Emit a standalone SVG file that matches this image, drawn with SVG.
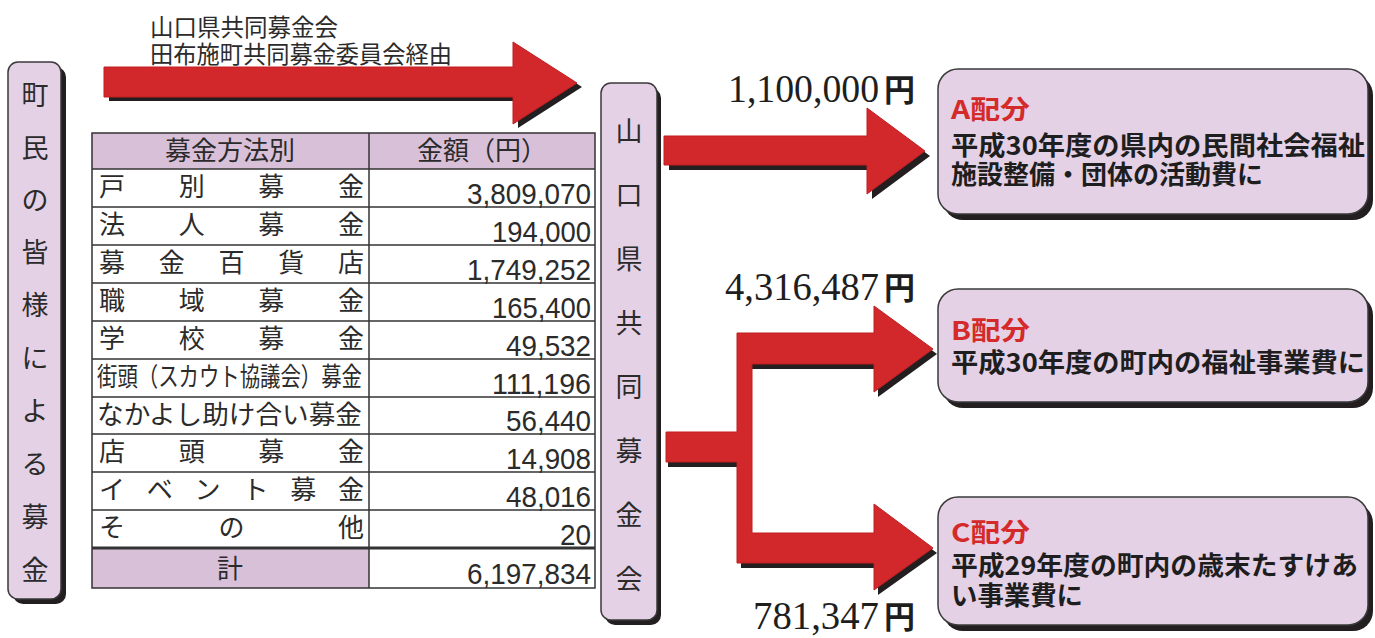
<svg xmlns="http://www.w3.org/2000/svg" width="1375" height="638" viewBox="0 0 1375 638">
<defs>
<style>
.jp{font-family:"Noto Sans CJK JP","Noto Sans CJK SC",sans-serif;fill:#2b2b2b}
.v{font-size:27px;text-anchor:middle}
.cell{font-size:26px}
.num{font-family:"Liberation Sans",Arial,sans-serif;font-size:30px;fill:#2b2b2b}
.amt{font-family:"Liberation Serif","Times New Roman",serif;font-size:40px;fill:#1e1e1e}
.yen{font-family:"Noto Sans CJK JP",sans-serif;font-size:31px;font-weight:700;fill:#1e1e1e}
.box{fill:#e5d1e5;stroke:#3a3a3a;stroke-width:1.5}
.shadow{fill:#231f20}
.red{fill:#d3282b;stroke:#c01e22;stroke-width:1}
.hd{fill:#d9c0d9}
.grid{stroke:#333;stroke-width:1.5;fill:none}
.ttl{font-family:"Noto Sans CJK JP",sans-serif;font-size:26px;font-weight:700;fill:#d42a2a}
.body{font-family:"Noto Sans CJK JP",sans-serif;font-size:26px;font-weight:700;fill:#1e1e1e}
</style>
</defs>

<!-- top caption -->
<g id="caption">
<text class="jp" x="150" y="36" font-size="24" textLength="188" lengthAdjust="spacingAndGlyphs">山口県共同募金会</text>
<text class="jp" x="150" y="63" font-size="24" textLength="302" lengthAdjust="spacingAndGlyphs">田布施町共同募金委員会経由</text>
</g>

<!-- connectors -->
<g id="connectors">
<g id="arrow-top">
<polygon class="shadow" transform="translate(5,4)" points="104,67 513,67 513,42 577,83 513,124 513,97 104,97"/>
<polygon class="red" points="104,67 513,67 513,42 577,83 513,124 513,97 104,97"/>
</g>
<g id="arrow-a">
<polygon class="shadow" transform="translate(5,5)" points="664,136 867,136 867,108 925,151 867,194 867,165 664,165"/>
<polygon class="red" points="664,136 867,136 867,108 925,151 867,194 867,165 664,165"/>
</g>
<g id="arrow-bc">
<rect class="shadow" x="668" y="461" width="70" height="6"/>
<rect class="shadow" x="752" y="363" width="124" height="6"/>
<rect class="shadow" x="741" y="562" width="135" height="6"/>
<polygon class="shadow" transform="translate(4,5)" points="874,306 933,349 874,392"/>
<polygon class="shadow" transform="translate(4,5)" points="874,504 933,548 874,590"/>
<polygon class="red" points="666,432 737,432 737,333 874,333 874,306 933,349 874,392 874,364 752,364 752,533 874,533 874,504 933,548 874,590 874,563 737,563 737,462 666,462"/>
</g>
</g>

<!-- amounts -->
<g id="amounts">
<text class="amt" x="728" y="102" textLength="151" lengthAdjust="spacingAndGlyphs">1,100,000</text><text class="yen" x="884" y="101">円</text>
<text class="amt" x="725" y="300" textLength="154" lengthAdjust="spacingAndGlyphs">4,316,487</text><text class="yen" x="884" y="299">円</text>
<text class="amt" x="753" y="629" textLength="126" lengthAdjust="spacingAndGlyphs">781,347</text><text class="yen" x="884" y="628">円</text>
</g>

<!-- left node -->
<g id="node-townspeople">
<rect class="shadow" x="13" y="67" width="53" height="537" rx="10"/>
<rect class="box" x="8" y="62" width="53" height="537" rx="10"/>
<g class="jp v">
<text x="35" y="105">町</text><text x="35" y="158">民</text><text x="35" y="210">の</text><text x="35" y="262">皆</text><text x="35" y="315">様</text>
<text x="35" y="368">に</text><text x="35" y="421">よ</text><text x="35" y="474">る</text><text x="35" y="527">募</text><text x="35" y="580">金</text>
</g>
</g>

<!-- middle node -->
<g id="node-kyodo">
<rect class="shadow" x="605" y="88" width="56" height="537" rx="10"/>
<rect class="box" x="601" y="83" width="56" height="537" rx="10"/>
<g class="jp v">
<text x="629" y="141">山</text><text x="629" y="205">口</text><text x="629" y="269">県</text><text x="629" y="333">共</text>
<text x="629" y="397">同</text><text x="629" y="461">募</text><text x="629" y="525">金</text><text x="629" y="589">会</text>
</g>
</g>

<!-- table -->
<g id="table">
<rect x="92" y="133" width="503" height="455" fill="#ffffff"/>
<rect class="hd" x="92" y="133" width="503" height="36"/>
<rect class="hd" x="92" y="548" width="277" height="40"/>
<g class="grid">
<rect x="92" y="133" width="503" height="455"/>
<line x1="369" y1="133" x2="369" y2="588"/>
<line x1="92" y1="169" x2="595" y2="169"/>
<line x1="92" y1="207" x2="595" y2="207"/>
<line x1="92" y1="245" x2="595" y2="245"/>
<line x1="92" y1="283" x2="595" y2="283"/>
<line x1="92" y1="321" x2="595" y2="321"/>
<line x1="92" y1="359" x2="595" y2="359"/>
<line x1="92" y1="397" x2="595" y2="397"/>
<line x1="92" y1="434" x2="595" y2="434"/>
<line x1="92" y1="472" x2="595" y2="472"/>
<line x1="92" y1="510" x2="595" y2="510"/>
<line x1="92" y1="548" x2="595" y2="548" stroke-width="3"/>
</g>
<g class="jp cell">
<text x="230" y="160" text-anchor="middle">募金方法別</text>
<text x="482" y="160" text-anchor="middle">金額（円）</text>
<text x="99" y="196" textLength="265" lengthAdjust="spacing">戸別募金</text>
<text x="99" y="234" textLength="265" lengthAdjust="spacing">法人募金</text>
<text x="99" y="272" textLength="265" lengthAdjust="spacing">募金百貨店</text>
<text x="99" y="310" textLength="265" lengthAdjust="spacing">職域募金</text>
<text x="99" y="348" textLength="265" lengthAdjust="spacing">学校募金</text>
<text x="97" y="386" textLength="265" lengthAdjust="spacingAndGlyphs">街頭（スカウト協議会）募金</text>
<text x="97" y="424" textLength="265" lengthAdjust="spacingAndGlyphs">なかよし助け合い募金</text>
<text x="99" y="461" textLength="265" lengthAdjust="spacing">店頭募金</text>
<text x="99" y="499" textLength="265" lengthAdjust="spacing">イベント募金</text>
<text x="99" y="537" textLength="265" lengthAdjust="spacing">その他</text>
<text x="230" y="578" text-anchor="middle">計</text>
</g>
<g class="num">
<text x="467" y="204" textLength="124" lengthAdjust="spacingAndGlyphs">3,809,070</text>
<text x="492" y="242" textLength="99" lengthAdjust="spacingAndGlyphs">194,000</text>
<text x="467" y="280" textLength="124" lengthAdjust="spacingAndGlyphs">1,749,252</text>
<text x="492" y="318" textLength="99" lengthAdjust="spacingAndGlyphs">165,400</text>
<text x="506" y="356" textLength="85" lengthAdjust="spacingAndGlyphs">49,532</text>
<text x="492" y="394" textLength="99" lengthAdjust="spacingAndGlyphs">111,196</text>
<text x="506" y="431" textLength="85" lengthAdjust="spacingAndGlyphs">56,440</text>
<text x="506" y="469" textLength="85" lengthAdjust="spacingAndGlyphs">14,908</text>
<text x="506" y="507" textLength="85" lengthAdjust="spacingAndGlyphs">48,016</text>
<text x="560" y="545" textLength="31" lengthAdjust="spacingAndGlyphs">20</text>
<text x="467" y="584" textLength="124" lengthAdjust="spacingAndGlyphs">6,197,834</text>
</g>
</g>

<!-- right nodes -->
<g id="node-a">
<rect class="shadow" x="943" y="75" width="430" height="145" rx="20"/>
<rect class="box" x="938" y="69" width="430" height="145" rx="20"/>
<text class="ttl" x="951" y="119" textLength="79" lengthAdjust="spacingAndGlyphs">A配分</text>
<text class="body" x="951" y="155" textLength="414" lengthAdjust="spacingAndGlyphs">平成30年度の県内の民間社会福祉</text>
<text class="body" x="951" y="184" textLength="312" lengthAdjust="spacingAndGlyphs">施設整備・団体の活動費に</text>
</g>
<g id="node-b">
<rect class="shadow" x="943" y="295" width="430" height="113" rx="20"/>
<rect class="box" x="938" y="289" width="430" height="113" rx="20"/>
<text class="ttl" x="951" y="340" textLength="79" lengthAdjust="spacingAndGlyphs">B配分</text>
<text class="body" x="951" y="372" textLength="414" lengthAdjust="spacingAndGlyphs">平成30年度の町内の福祉事業費に</text>
</g>
<g id="node-c">
<rect class="shadow" x="943" y="503" width="430" height="128" rx="20"/>
<rect class="box" x="938" y="497" width="430" height="128" rx="20"/>
<text class="ttl" x="951" y="542" textLength="79" lengthAdjust="spacingAndGlyphs">C配分</text>
<text class="body" x="951" y="575" textLength="407" lengthAdjust="spacingAndGlyphs">平成29年度の町内の歳末たすけあ</text>
<text class="body" x="951" y="605" textLength="132" lengthAdjust="spacingAndGlyphs">い事業費に</text>
</g>
</svg>
